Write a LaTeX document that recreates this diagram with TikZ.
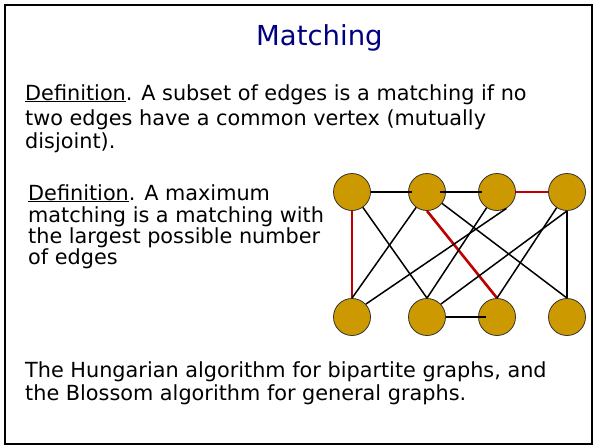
\documentclass[tikz,border=0pt]{standalone}
\usepackage{fontspec}
\setmainfont{DejaVu Sans}
\definecolor{gold}{RGB}{204,153,0}
\definecolor{navy}{RGB}{0,0,128}
\definecolor{mred}{RGB}{192,0,0}
\begin{document}
\begin{tikzpicture}[x=1pt,y=-1pt,
  vtx/.style={circle,draw=black!80,line width=0.8pt,fill=gold,minimum size=37pt,inner sep=0pt},
  txt/.style={anchor=base west,inner sep=0pt,font=\fontsize{20.8}{24}\selectfont},
  edge/.style={draw=black,line width=1.5pt},
  medge/.style={draw=mred,line width=2.6pt}]
\useasboundingbox (0,0) rectangle (596,447);
\draw[line width=2.8pt] (5,5) rectangle (592,444);
\node[anchor=base west,inner sep=0pt,text=navy,font=\fontsize{27.5}{32}\selectfont] (title) at (256,45) {Matching};
\node[txt] (d1a) at (25,100) {\underline{Definition}. A subset of edges is a matching if no};
\node[txt] (d1b) at (25,125) {two edges have a common vertex (mutually};
\node[txt] (d1c) at (25,148) {disjoint).};
\node[txt] (d2a) at (28,200) {\underline{Definition}. A maximum};
\node[txt] (d2b) at (28,222) {matching is a matching with};
\node[txt] (d2c) at (28,243) {the largest possible number};
\node[txt] (d2d) at (28,264) {of edges};
\node[txt] (b1) at (25,377) {The Hungarian algorithm for bipartite graphs, and};
\node[txt] (b2) at (25,400) {the Blossom algorithm for general graphs.};
\node[vtx] (T1) at (352,192) {};
\node[vtx] (T2) at (427,192) {};
\node[vtx] (T3) at (497,192) {};
\node[vtx] (T4) at (567,192) {};
\node[vtx] (B1) at (352,317) {};
\node[vtx] (B2) at (427,317) {};
\node[vtx] (B3) at (497,317) {};
\node[vtx] (B4) at (567,317) {};
\draw[edge] (T1.east) -- ([xshift=4pt]T2.west);
\draw[edge] ([xshift=13pt]T2.center) -- ([xshift=4pt]T3.west);
\draw[medge] (T3.east) -- (T4.west);
\draw[medge] (T1.south) -- (B1.north);
\draw[edge] (T1) -- (B2.north);
\draw[edge] (T2) -- (B1.north);
\draw[medge] (T2.south) -- (B3.north);
\draw[edge] (T2) -- (B4.north);
\draw[edge] (T3) -- (B2.north);
\draw[edge] (T3.-60) -- (B1.43);
\draw[edge] (T4.south) -- (B4.north);
\draw[edge] (T4) -- (B3.north);
\draw[edge] (T4.south) -- (B2.43);
\draw[edge] (B2.east) -- ([xshift=8pt]B3.west);
\end{tikzpicture}
\end{document}
